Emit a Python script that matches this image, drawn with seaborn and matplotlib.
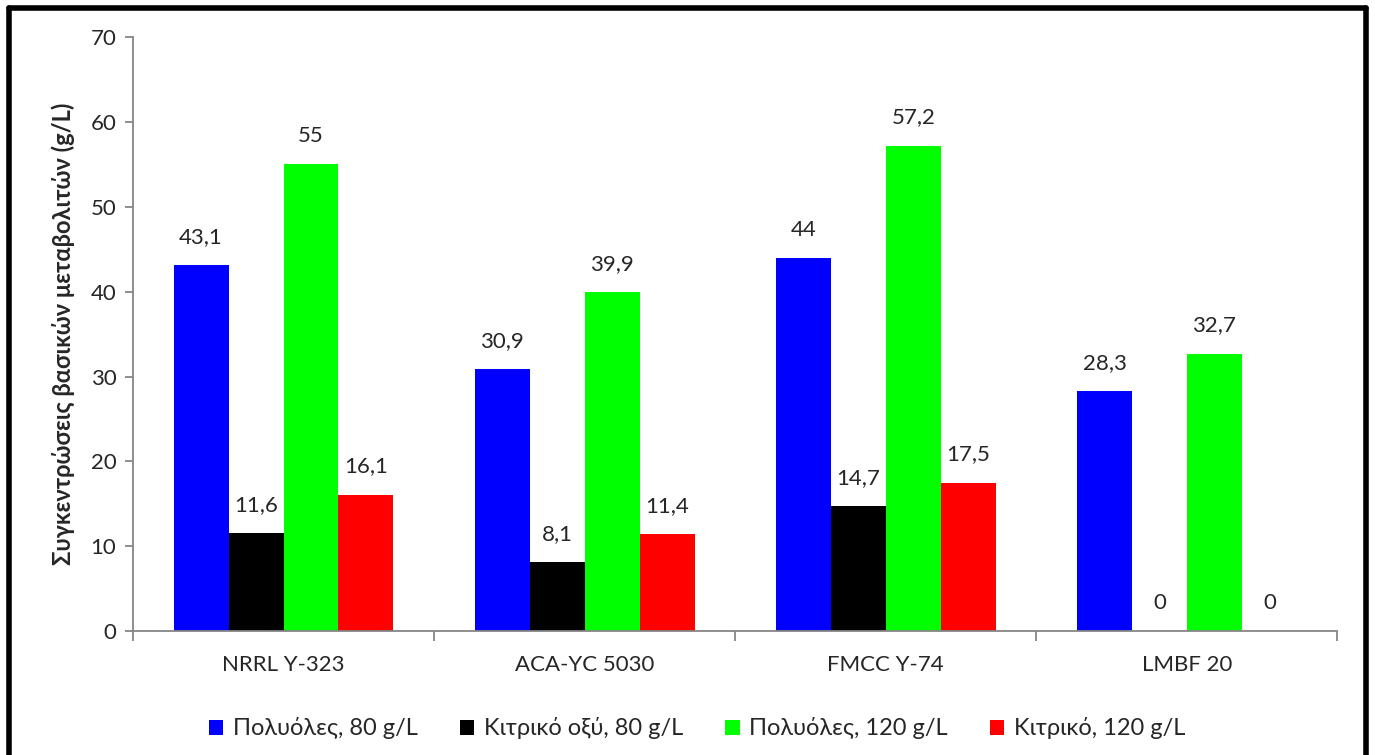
import numpy as np
import pandas as pd
import matplotlib.pyplot as plt
from matplotlib.lines import Line2D
import seaborn as sns

# data
strains = ['NRRL Y-323', 'ACA-YC 5030', 'FMCC Y-74', 'LMBF 20']
series = ['Πολυόλες, 80 g/L', 'Κιτρικό οξύ, 80 g/L', 'Πολυόλες, 120 g/L', 'Κιτρικό, 120 g/L']
polyols_80 = [43.1, 30.9, 44.0, 28.3]
citric_80 = [11.6, 8.1, 14.7, 0.0]
polyols_120 = [55.0, 39.9, 57.2, 32.7]
citric_120 = [16.1, 11.4, 17.5, 0.0]
colors = ['#0000FF', '#000000', '#00FF00', '#FF0000']

rows = []
for name, vals in zip(series, [polyols_80, citric_80, polyols_120, citric_120]):
    for s, v in zip(strains, vals):
        rows.append({'strain': s, 'series': name, 'value': v})
df = pd.DataFrame(rows)

sns.set_style('white')
plt.rcParams['font.family'] = ['Lato', 'DejaVu Sans']

fig = plt.figure(figsize=(13.75, 7.55), dpi=100)
ax = fig.add_axes([0.0967, 0.164, 0.876, 0.787])

sns.barplot(data=df, x='strain', y='value', hue='series', palette=colors,
            width=0.73, saturation=1, ax=ax, errorbar=None, linewidth=0)

# value labels
for cont in ax.containers:
    labels = [f'{b.get_height():g}'.replace('.', ',') for b in cont]
    ax.bar_label(cont, labels=labels, padding=13, fontsize=16)

ax.set_ylim(0, 70)
ax.set_xlim(-0.5, 3.5)
ax.set_yticks(np.arange(0, 71, 10))
ax.set_xlabel('')
ax.set_ylabel('Συγκεντρώσεις βασικών μεταβολιτών (g/L)', fontsize=17, fontweight='bold', labelpad=11)

gray = '#868686'
for side in ['top', 'right']:
    ax.spines[side].set_visible(False)
for side in ['left', 'bottom']:
    ax.spines[side].set_color(gray)
    ax.spines[side].set_linewidth(1.3)

ax.tick_params(axis='y', left=True, length=6, color=gray, width=1.3, labelsize=16, pad=6)
ax.tick_params(axis='x', which='major', bottom=False, labelsize=16, pad=14)
ax.set_xticks(np.arange(-0.5, 3.6, 1), minor=True)
ax.tick_params(axis='x', which='minor', bottom=True, length=7, color=gray, width=1.3)

ax.legend(loc='upper center', bbox_to_anchor=(0.507, 0.078), bbox_transform=fig.transFigure,
          ncol=4, frameon=False, fontsize=17, handlelength=0.6, handleheight=0.6,
          handletextpad=0.4, columnspacing=1.8)

# outer black frame
for xs, ys in [([0.0065, 0.0065], [0.0, 0.989]), ([0.0065, 0.9935], [0.989, 0.989]),
               ([0.9935, 0.9935], [0.989, 0.0])]:
    fig.add_artist(Line2D(xs, ys, color='black', linewidth=4, transform=fig.transFigure))

fig.savefig('out.png', dpi=100)
